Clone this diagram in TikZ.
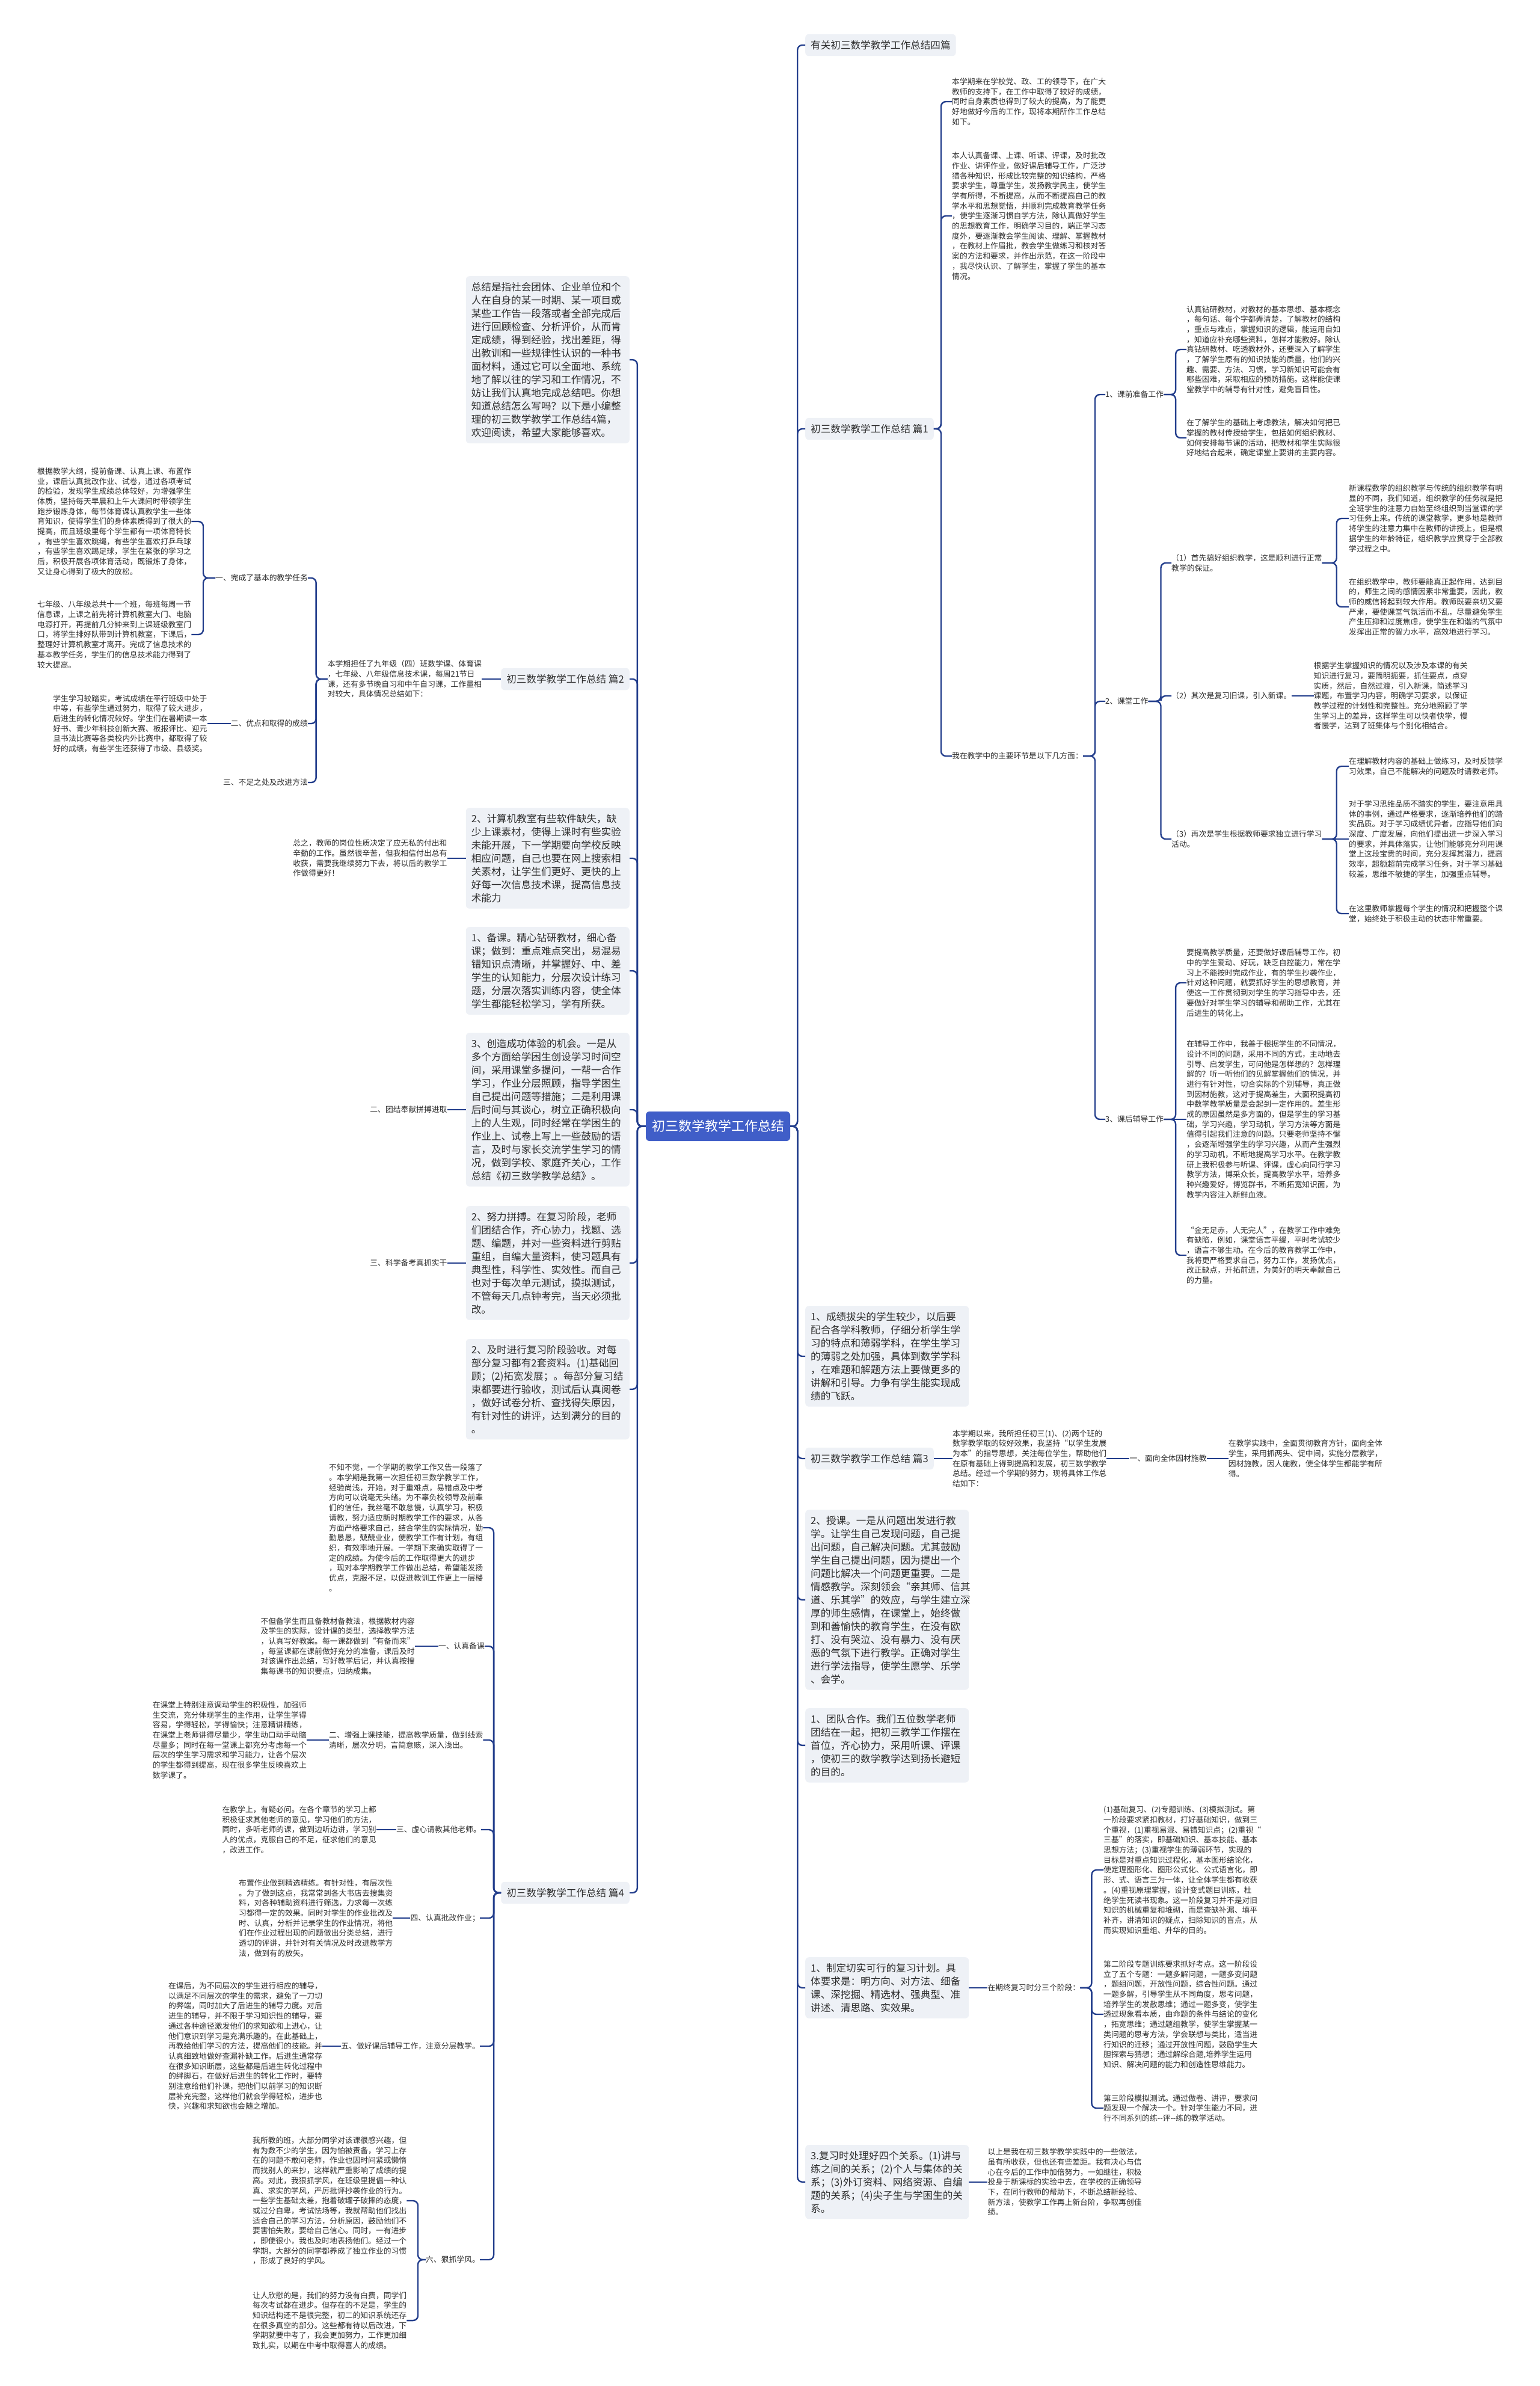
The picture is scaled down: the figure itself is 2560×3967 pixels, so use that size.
\documentclass[tikz,border=0pt]{standalone}
\usepackage{fontspec}
\setmainfont{Noto Sans CJK SC}
\definecolor{linec}{RGB}{35,62,140}
\definecolor{boxf}{RGB}{238,241,246}
\definecolor{cen}{RGB}{64,94,200}
\definecolor{txtc}{RGB}{45,45,45}
\tikzset{
 conn/.style={draw=linec, line width=2.4pt, rounded corners=8pt},
 bigbox/.style={fill=boxf, rounded corners=6pt, inner xsep=9pt, inner ysep=10pt, text width=254pt, align=left, font=\fontsize{16.6}{22}\selectfont, text=txtc},
 labbox/.style={fill=boxf, rounded corners=6pt, inner xsep=9pt, inner ysep=10.5pt, font=\fontsize{16.6}{20}\selectfont, text=txtc},
 small/.style={inner sep=0pt, align=left, font=\fontsize{12.8}{16.7}\selectfont, text=txtc},
 central/.style={fill=cen, rounded corners=6pt, minimum width=240pt, minimum height=49pt, inner sep=0pt, text=white, font=\fontsize{22}{26}\selectfont}
}
\begin{document}
\begin{tikzpicture}[x=1pt,y=-1pt]
\fill[white] (0,0) rectangle (2560,3967);
\useasboundingbox (0,0) rectangle (2560,3967);

% central
\node[central] (c) at (1194,1872.5) {初三数学教学工作总结};

% ---------- right first level
\node[labbox, anchor=west] (r0) at (1339,75) {有关初三数学教学工作总结四篇};
\node[labbox, anchor=west] (r1) at (1339,713) {初三数学教学工作总结 篇1};
\node[bigbox, anchor=north west] (r2) at (1339,2171) {1、成绩拔尖的学生较少，以后要\\配合各学科教师，仔细分析学生学\\习的特点和薄弱学科，在学生学习\\的薄弱之处加强，具体到数学学科\\，在难题和解题方法上要做更多的\\讲解和引导。力争有学生能实现成\\绩的飞跃。};
\node[labbox, anchor=west] (r3) at (1339,2425) {初三数学教学工作总结 篇3};
\node[bigbox, anchor=north west] (r4) at (1339,2510) {2、授课。一是从问题出发进行教\\学。让学生自己发现问题，自己提\\出问题，自己解决问题。尤其鼓励\\学生自己提出问题，因为提出一个\\问题比解决一个问题更重要。二是\\情感教学。深刻领会“亲其师、信其\\道、乐其学”的效应，与学生建立深\\厚的师生感情，在课堂上，始终做\\到和善愉快的教育学生，在没有欧\\打、没有哭泣、没有暴力、没有厌\\恶的气氛下进行教学。正确对学生\\进行学法指导，使学生愿学、乐学\\、会学。};
\node[bigbox, anchor=north west] (r5) at (1339,2840) {1、团队合作。我们五位数学老师\\团结在一起，把初三教学工作摆在\\首位，齐心协力，采用听课、评课\\，使初三的数学教学达到扬长避短\\的目的。};
\node[bigbox, anchor=north west] (r6) at (1339,3254) {1、制定切实可行的复习计划。具\\体要求是：明方向、对方法、细备\\课、深挖掘、精选材、强典型、准\\讲述、清思路、实效果。};
\node[bigbox, anchor=north west] (r7) at (1339,3566) {3.复习时处理好四个关系。(1)讲与\\练之间的关系；(2)个人与集体的关\\系；(3)外订资料、网络资源、自编\\题的关系；(4)尖子生与学困生的关\\系。};
\foreach \n in {r0,r1,r2,r3,r4,r5,r6,r7} \draw[conn] (c.east) -- ++(12,0) |- (\n.west);

% ---------- left first level
\node[bigbox, anchor=north east] (l0) at (1047,459) {总结是指社会团体、企业单位和个\\人在自身的某一时期、某一项目或\\某些工作告一段落或者全部完成后\\进行回顾检查、分析评价，从而肯\\定成绩，得到经验，找出差距，得\\出教训和一些规律性认识的一种书\\面材料，通过它可以全面地、系统\\地了解以往的学习和工作情况，不\\妨让我们认真地完成总结吧。你想\\知道总结怎么写吗？以下是小编整\\理的初三数学教学工作总结4篇，\\欢迎阅读，希望大家能够喜欢。};
\node[labbox, anchor=east] (l1) at (1047,1129) {初三数学教学工作总结 篇2};
\node[bigbox, anchor=north east] (l2) at (1047,1343) {2、计算机教室有些软件缺失，缺\\少上课素材，使得上课时有些实验\\未能开展，下一学期要向学校反映\\相应问题，自己也要在网上搜索相\\关素材，让学生们更好、更快的上\\好每一次信息技术课，提高信息技\\术能力};
\node[bigbox, anchor=north east] (l3) at (1047,1541) {1、备课。精心钻研教材，细心备\\课；做到：重点难点突出，易混易\\错知识点清晰，并掌握好、中、差\\学生的认知能力，分层次设计练习\\题，分层次落实训练内容，使全体\\学生都能轻松学习，学有所获。};
\node[bigbox, anchor=north east] (l4) at (1047,1717) {3、创造成功体验的机会。一是从\\多个方面给学困生创设学习时间空\\间，采用课堂多提问，一帮一合作\\学习，作业分层照顾，指导学困生\\自己提出问题等措施；二是利用课\\后时间与其谈心，树立正确积极向\\上的人生观，同时经常在学困生的\\作业上、试卷上写上一些鼓励的语\\言，及时与家长交流学生学习的情\\况，做到学校、家庭齐关心，工作\\总结《初三数学教学总结》。};
\node[bigbox, anchor=north east] (l5) at (1047,2005) {2、努力拼搏。在复习阶段，老师\\们团结合作，齐心协力，找题、选\\题、编题，并对一些资料进行剪贴\\重组，自编大量资料，使习题具有\\典型性，科学性、实效性。而自己\\也对于每次单元测试，摸拟测试，\\不管每天几点钟考完，当天必须批\\改。};
\node[bigbox, anchor=north east] (l6) at (1047,2226) {2、及时进行复习阶段验收。对每\\部分复习都有2套资料。(1)基础回\\顾；(2)拓宽发展；。每部分复习结\\束都要进行验收，测试后认真阅卷\\，做好试卷分析、查找得失原因，\\有针对性的讲评，达到满分的目的\\。};
\node[labbox, anchor=east] (l7) at (1047,3147) {初三数学教学工作总结 篇4};
\foreach \n in {l0,l1,l2,l3,l4,l5,l6,l7} \draw[conn] (c.west) -- ++(-14,0) |- (\n.east);

% ---------- 篇1
\node[small, anchor=west] (p1a) at (1583,169) {本学期来在学校党、政、工的领导下，在广大\\教师的支持下，在工作中取得了较好的成绩，\\同时自身素质也得到了较大的提高，为了能更\\好地做好今后的工作，现将本期所作工作总结\\如下。};
\node[small, anchor=west] (p1b) at (1583,359) {本人认真备课、上课、听课、评课，及时批改\\作业、讲评作业，做好课后辅导工作，广泛涉\\猎各种知识，形成比较完整的知识结构，严格\\要求学生，尊重学生，发扬教学民主，使学生\\学有所得，不断提高，从而不断提高自己的教\\学水平和思想觉悟，并顺利完成教育教学任务\\，使学生逐渐习惯自学方法，除认真做好学生\\的思想教育工作，明确学习目的，端正学习态\\度外，要逐渐教会学生阅读、理解、掌握教材\\，在教材上作眉批，教会学生做练习和核对答\\案的方法和要求，并作出示范，在这一阶段中\\，我尽快认识、了解学生，掌握了学生的基本\\情况。};
\node[small, anchor=west] (p1c) at (1583,1257) {我在教学中的主要环节是以下几方面：};
\foreach \n in {p1a,p1b,p1c} \draw[conn] (r1.east) -- ++(12,0) |- (\n.west);

\node[small, anchor=west] (k1) at (1838,656) {1、课前准备工作};
\node[small, anchor=west] (k2) at (1838,1166) {2、课堂工作};
\node[small, anchor=west] (k3) at (1838,1861) {3、课后辅导工作};
\foreach \n in {k1,k2,k3} \draw[conn] (p1c.east) -- ++(20,0) |- (\n.west);

\node[small, anchor=west] (k1a) at (1973,581) {认真钻研教材，对教材的基本思想、基本概念\\，每句话、每个字都弄清楚，了解教材的结构\\，重点与难点，掌握知识的逻辑，能运用自如\\，知道应补充哪些资料，怎样才能教好。除认\\真钻研教材、吃透教材外，还要深入了解学生\\，了解学生原有的知识技能的质量，他们的兴\\趣、需要、方法、习惯，学习新知识可能会有\\哪些困难，采取相应的预防措施。这样能使课\\堂教学中的辅导有针对性，避免盲目性。};
\node[small, anchor=west] (k1b) at (1973,728) {在了解学生的基础上考虑教法，解决如何把已\\掌握的教材传授给学生，包括如何组织教材、\\如何安排每节课的活动，把教材和学生实际很\\好地结合起来，确定课堂上要讲的主要内容。};
\foreach \n in {k1a,k1b} \draw[conn] (k1.east) -- ++(20,0) |- (\n.west);

\node[small, anchor=west] (k2a) at (1948,936) {（1）首先搞好组织教学，这是顺利进行正常\\教学的保证。};
\node[small, anchor=west] (k2b) at (1948,1157) {（2）其次是复习旧课，引入新课。};
\node[small, anchor=west] (k2c) at (1948,1395) {（3）再次是学生根据教师要求独立进行学习\\活动。};
\foreach \n in {k2a,k2b,k2c} \draw[conn] (k2.east) -- ++(21,0) |- (\n.west);

\node[small, anchor=west] (k2a1) at (2243,862) {新课程数学的组织教学与传统的组织教学有明\\显的不同，我们知道，组织教学的任务就是把\\全班学生的注意力自始至终组织到当堂课的学\\习任务上来。传统的课堂教学，更多地是教师\\将学生的注意力集中在教师的讲授上，但是根\\据学生的年龄特征，组织教学应贯穿于全部教\\学过程之中。};
\node[small, anchor=west] (k2a2) at (2243,1009) {在组织教学中，教师要能真正起作用，达到目\\的，师生之间的感情因素非常重要，因此，教\\师的威信将起到较大作用。教师既要亲切又要\\严肃，要使课堂气氛活而不乱，尽量避免学生\\产生压抑和过度焦虑，使学生在和谐的气氛中\\发挥出正常的智力水平，高效地进行学习。};
\foreach \n in {k2a1,k2a2} \draw[conn] (k2a.east) -- ++(24,0) |- (\n.west);

\node[small, anchor=west] (k2b1) at ([xshift=37pt]k2b.east) {根据学生掌握知识的情况以及涉及本课的有关\\知识进行复习，要简明扼要，抓住要点，点穿\\实质，然后，自然过渡，引入新课，简述学习\\课题，布置学习内容，明确学习要求，以保证\\教学过程的计划性和完整性。充分地照顾了学\\生学习上的差异，这样学生可以快者快学，慢\\者慢学，达到了班集体与个别化相结合。};
\draw[conn] (k2b.east) -- (k2b1.west);

\node[small, anchor=west] (k2c1) at (2243,1274) {在理解教材内容的基础上做练习，及时反馈学\\习效果，自己不能解决的问题及时请教老师。};
\node[small, anchor=west] (k2c2) at (2243,1395) {对于学习思维品质不踏实的学生，要注意用具\\体的事例，通过严格要求，逐渐培养他们的踏\\实品质。对于学习成绩优异者，应指导他们向\\深度、广度发展，向他们提出进一步深入学习\\的要求，并具体落实，让他们能够充分利用课\\堂上这段宝贵的时间，充分发挥其潜力，提高\\效率，超额超前完成学习任务，对于学习基础\\较差，思维不敏捷的学生，加强重点辅导。};
\node[small, anchor=west] (k2c3) at (2243,1519) {在这里教师掌握每个学生的情况和把握整个课\\堂，始终处于积极主动的状态非常重要。};
\foreach \n in {k2c1,k2c3} \draw[conn] (k2c.east) -- ++(24,0) |- (\n.west);
\draw[conn] (k2c.east) -- (k2c2.west);

\node[small, anchor=west] (k3a) at (1973,1634) {要提高教学质量，还要做好课后辅导工作，初\\中的学生爱动、好玩，缺乏自控能力，常在学\\习上不能按时完成作业，有的学生抄袭作业，\\针对这种问题，就要抓好学生的思想教育，并\\使这一工作贯彻到对学生的学习指导中去，还\\要做好对学生学习的辅导和帮助工作，尤其在\\后进生的转化上。};
\node[small, anchor=west] (k3b) at ([xshift=38pt]k3.east) {在辅导工作中，我善于根据学生的不同情况，\\设计不同的问题，采用不同的方式，主动地去\\引导、启发学生，可问他是怎样想的？怎样理\\解的？听一听他们的见解掌握他们的情况，并\\进行有针对性，切合实际的个别辅导，真正做\\到因材施教，这对于提高差生，大面积提高初\\中数学教学质量是会起到一定作用的。差生形\\成的原因虽然是多方面的，但是学生的学习基\\础，学习兴趣，学习动机，学习方法等方面是\\值得引起我们注意的问题。只要老师坚持不懈\\，会逐渐增强学生的学习兴趣，从而产生强烈\\的学习动机，不断地提高学习水平。在教学教\\研上我积极参与听课、评课，虚心向同行学习\\教学方法，博采众长，提高教学水平，培养多\\种兴趣爱好，博览群书，不断拓宽知识面，为\\教学内容注入新鲜血液。};
\node[small, anchor=west] (k3c) at (1973,2087) {“金无足赤，人无完人”，在教学工作中难免\\有缺陷，例如，课堂语言平缓，平时考试较少\\，语言不够生动。在今后的教育教学工作中，\\我将更严格要求自己，努力工作，发扬优点，\\改正缺点，开拓前进，为美好的明天奉献自己\\的力量。};
\foreach \n in {k3a,k3c} \draw[conn] (k3.east) -- ++(20,0) |- (\n.west);
\draw[conn] (k3.east) -- (k3b.west);

% ---------- 篇3
\node[small, anchor=west] (t3) at ([xshift=31pt]r3.east) {本学期以来，我所担任初三(1)、(2)两个班的\\数学教学取的较好效果，我坚持“以学生发展\\为本”的指导思想，关注每位学生，帮助他们\\在原有基础上得到提高和发展，初三数学教学\\总结。经过一个学期的努力，现将具体工作总\\结如下：};
\draw[conn] (r3.east) -- (t3.west);
\node[small, anchor=west] (t3b) at ([xshift=38pt]t3.east) {一、面向全体因材施教};
\draw[conn] (t3.east) -- (t3b.west);
\node[small, anchor=west] (t3c) at ([xshift=36pt]t3b.east) {在教学实践中，全面贯彻教育方针，面向全体\\学生，采用抓两头、促中间，实施分层教学，\\因材施教，因人施教，使全体学生都能学有所\\得。};
\draw[conn] (t3b.east) -- (t3c.west);

% ---------- review plan
\node[small, anchor=west] (q0) at ([xshift=31pt]r6.east) {在期终复习时分三个阶段：};
\draw[conn] (r6.east) -- (q0.west);
\node[small, anchor=west] (q1) at (1835,3109) {(1)基础复习、(2)专题训练、(3)模拟测试。第\\一阶段要求紧扣教材，打好基础知识，做到三\\个重视，(1)重视易混、易错知识点；(2)重视“\\三基”的落实，即基础知识、基本技能、基本\\思想方法；(3)重视学生的薄弱环节，实现的\\目标是对重点知识过程化，基本图形结论化，\\使定理图形化、图形公式化、公式语言化，即\\形、式、语言三为一体，让全体学生都有收获\\。(4)重视原理掌握，设计变式题目训练，杜\\绝学生死读书现象。这一阶段复习并不是对旧\\知识的机械重复和堆砌，而是查缺补漏、填平\\补齐，讲清知识的疑点，扫除知识的盲点，从\\而实现知识重组、升华的目的。};
\node[small, anchor=west] (q2) at (1835,3349) {第二阶段专题训练要求抓好考点。这一阶段设\\立了五个专题：一题多解问题，一题多变问题\\，题组问题，开放性问题，综合性问题。通过\\一题多解，引导学生从不同角度，思考问题，\\培养学生的发散思维；通过一题多变，使学生\\透过现象看本质，由命题的条件与结论的变化\\，拓宽思维；通过题组教学，使学生掌握某一\\类问题的思考方法，学会联想与类比，适当进\\行知识的迁移；通过开放性问题，鼓励学生大\\胆探索与猜想；通过解综合题,培养学生运用\\知识、解决问题的能力和创造性思维能力。};
\node[small, anchor=west] (q3) at (1835,3505) {第三阶段模拟测试。通过做卷、讲评，要求问\\题发现一个解决一个。针对学生能力不同，进\\行不同系列的练-{}-评-{}-练的教学活动。};
\foreach \n in {q1,q2,q3} \draw[conn] (q0.east) -- ++(19,0) |- (\n.west);

\node[small, anchor=west] (q4) at ([xshift=31pt]r7.east) {以上是我在初三数学教学实践中的一些做法，\\虽有所收获，但也还有些差距。我有决心与信\\心在今后的工作中加倍努力，一如继往，积极\\投身于新课标的实验中去，在学校的正确领导\\下，在同行教师的帮助下，不断总结新经验、\\新方法，使教学工作再上新台阶，争取再创佳\\绩。};
\draw[conn] (r7.east) -- (q4.west);

% ---------- 篇2
\node[small, anchor=east] (t2) at ([xshift=-32pt]l1.west) {本学期担任了九年级（四）班数学课、体育课\\，七年级、八年级信息技术课，每周21节日\\课，还有多节晚自习和中午自习课，工作量相\\对较大，具体情况总结如下：};
\draw[conn] (l1.west) -- (t2.east);
\node[small, anchor=east] (a1) at (512,961) {一、完成了基本的教学任务};
\node[small, anchor=east] (a2) at (512,1203) {二、优点和取得的成绩};
\node[small, anchor=east] (a3) at (512,1301) {三、不足之处及改进方法};
\foreach \n in {a1,a2,a3} \draw[conn] (t2.west) -- ++(-19,0) |- (\n.east);
\node[small, anchor=west] (a1a) at (62,867) {根据教学大纲，提前备课、认真上课、布置作\\业，课后认真批改作业、试卷，通过各项考试\\的检验，发现学生成绩总体较好，为增强学生\\体质，坚持每天早晨和上午大课间时带领学生\\跑步锻炼身体，每节体育课认真教学生一些体\\育知识，使得学生们的身体素质得到了很大的\\提高，而且班级里每个学生都有一项体育特长\\，有些学生喜欢跳绳，有些学生喜欢打乒乓球\\，有些学生喜欢踢足球，学生在紧张的学习之\\后，积极开展各项体育活动，既锻炼了身体，\\又让身心得到了极大的放松。};
\node[small, anchor=west] (a1b) at (62,1055) {七年级、八年级总共十一个班，每班每周一节\\信息课，上课之前先将计算机教室大门、电脑\\电源打开，再提前几分钟来到上课班级教室门\\口，将学生排好队带到计算机教室，下课后，\\整理好计算机教室才离开。完成了信息技术的\\基本教学任务，学生们的信息技术能力得到了\\较大提高。};
\foreach \n in {a1a,a1b} \draw[conn] (a1.west) -- ++(-20,0) |- (\n.east);
\node[small, anchor=east] (a2a) at ([xshift=-39pt]a2.west) {学生学习较踏实，考试成绩在平行班级中处于\\中等，有些学生通过努力，取得了较大进步，\\后进生的转化情况较好。学生们在暑期读一本\\好书、青少年科技创新大赛、板报评比、迎元\\旦书法比赛等各类校内外比赛中，都取得了较\\好的成绩，有些学生还获得了市级、县级奖。};
\draw[conn] (a2.west) -- (a2a.east);

% ---------- other left details
\node[small, anchor=east] (t4) at ([xshift=-31pt]l2.west) {总之，教师的岗位性质决定了应无私的付出和\\辛勤的工作。虽然很辛苦，但我相信付出总有\\收获，需要我继续努力下去，将以后的教学工\\作做得更好！};
\draw[conn] (l2.west) -- (t4.east);
\node[small, anchor=east] (t5) at ([xshift=-31pt]l4.west) {二、团结奉献拼搏进取};
\draw[conn] (l4.west) -- (t5.east);
\node[small, anchor=east] (t6) at ([xshift=-31pt]l5.west) {三、科学备考真抓实干};
\draw[conn] (l5.west) -- (t6.east);

% ---------- 篇4
\node[small, anchor=west] (b0) at (547,2540) {不知不觉，一个学期的教学工作又告一段落了\\。本学期是我第一次担任初三数学教学工作，\\经验尚浅，开始，对于重难点，易错点及中考\\方向可以说毫无头绪。为不辜负校领导及前辈\\们的信任，我丝毫不敢怠慢，认真学习，积极\\请教，努力适应新时期教学工作的要求，从各\\方面严格要求自己，结合学生的实际情况，勤\\勤恳恳，兢兢业业，使教学工作有计划，有组\\织，有效率地开展。一学期下来确实取得了一\\定的成绩。为使今后的工作取得更大的进步\\，现对本学期教学工作做出总结，希望能发扬\\优点，克服不足，以促进教训工作更上一层楼\\。};
\node[small, anchor=east] (b1) at (806,2737) {一、认真备课};
\node[small, anchor=west] (b2) at (547,2893) {二、增强上课技能，提高教学质量，做到线索\\清晰，层次分明，言简意赅，深入浅出。};
\node[small, anchor=east] (b3) at (800,3042) {三、虚心请教其他老师。};
\node[small, anchor=east] (b4) at (798,3189) {四、认真批改作业；};
\node[small, anchor=east] (b5) at (798,3402) {五、做好课后辅导工作，注意分层教学。};
\node[small, anchor=east] (b6) at (798,3757) {六、狠抓学风。};
\foreach \n in {b0,b1,b2,b3,b4,b5,b6} \draw[conn] (l7.west) -- ++(-12,0) |- (\n.east);

\node[small, anchor=east] (b1a) at ([xshift=-39pt]b1.west) {不但备学生而且备教材备教法，根据教材内容\\及学生的实际，设计课的类型，选择教学方法\\，认真写好教案。每一课都做到“有备而来”\\，每堂课都在课前做好充分的准备，课后及时\\对该课作出总结，写好教学后记，并认真按搜\\集每课书的知识要点，归纳成集。};
\draw[conn] (b1.west) -- (b1a.east);
\node[small, anchor=east] (b2a) at ([xshift=-37pt]b2.west) {在课堂上特别注意调动学生的积极性，加强师\\生交流，充分体现学生的主作用，让学生学得\\容易，学得轻松，学得愉快；注意精讲精练，\\在课堂上老师讲得尽量少，学生动口动手动脑\\尽量多；同时在每一堂课上都充分考虑每一个\\层次的学生学习需求和学习能力，让各个层次\\的学生都得到提高，现在很多学生反映喜欢上\\数学课了。};
\draw[conn] (b2.west) -- (b2a.east);
\node[small, anchor=east] (b3a) at ([xshift=-33pt]b3.west) {在教学上，有疑必问。在各个章节的学习上都\\积极征求其他老师的意见，学习他们的方法，\\同时，多听老师的课，做到边听边讲，学习别\\人的优点，克服自己的不足，征求他们的意见\\，改进工作。};
\draw[conn] (b3.west) -- (b3a.east);
\node[small, anchor=east] (b4a) at ([xshift=-29pt]b4.west) {布置作业做到精选精练。有针对性，有层次性\\。为了做到这点，我常常到各大书店去搜集资\\料，对各种辅助资料进行筛选，力求每一次练\\习都得一定的效果。同时对学生的作业批改及\\时、认真，分析并记录学生的作业情况，将他\\们在作业过程出现的问题做出分类总结，进行\\透切的评讲，并针对有关情况及时改进教学方\\法，做到有的放矢。};
\draw[conn] (b4.west) -- (b4a.east);
\node[small, anchor=east] (b5a) at ([xshift=-31pt]b5.west) {在课后，为不同层次的学生进行相应的辅导，\\以满足不同层次的学生的需求，避免了一刀切\\的弊端，同时加大了后进生的辅导力度。对后\\进生的辅导，并不限于学习知识性的辅导，要\\通过各种途径激发他们的求知欲和上进心，让\\他们意识到学习是充满乐趣的。在此基础上，\\再教给他们学习的方法，提高他们的技能。并\\认真细致地做好查漏补缺工作。后进生通常存\\在很多知识断层，这些都是后进生转化过程中\\的绊脚石，在做好后进生的转化工作时，要特\\别注意给他们补课，把他们以前学习的知识断\\层补充完整，这样他们就会学得轻松，进步也\\快，兴趣和求知欲也会随之增加。};
\draw[conn] (b5.west) -- (b5a.east);
\node[small, anchor=west] (b6a) at (420,3659) {我所教的班，大部分同学对该课很感兴趣，但\\有为数不少的学生，因为怕被责备，学习上存\\在的问题不敢问老师，作业也因时间紧或懒惰\\而找别人的来抄，这样就严重影响了成绩的提\\高。对此，我狠抓学风，在班级里提倡一种认\\真、求实的学风，严厉批评抄袭作业的行为。\\一些学生基础太差，抱着破罐子破摔的态度，\\或过分自卑，考试怯场等，我就帮助他们找出\\适合自己的学习方法，分析原因，鼓励他们不\\要害怕失败，要给自己信心。同时，一有进步\\，即使很小，我也及时地表扬他们。经过一个\\学期，大部分的同学都养成了独立作业的习惯\\，形成了良好的学风。};
\node[small, anchor=west] (b6b) at (420,3858) {让人欣慰的是，我们的努力没有白费，同学们\\每次考试都在进步。但存在的不足是，学生的\\知识结构还不是很完整，初二的知识系统还存\\在很多真空的部分。这些都有待以后改进，下\\学期就要中考了，我会更加努力，工作更加细\\致扎实，以期在中考中取得喜人的成绩。};
\foreach \n in {b6a,b6b} \draw[conn] (b6.west) -- ++(-13,0) |- (\n.east);

\end{tikzpicture}
\end{document}
